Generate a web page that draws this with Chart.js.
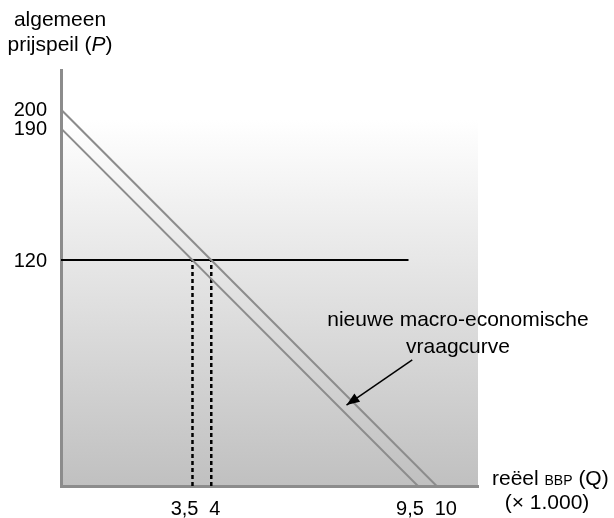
<!DOCTYPE html>
<html>
<head>
<meta charset="utf-8">
<script src="https://cdn.jsdelivr.net/npm/chart.js@4/dist/chart.umd.min.js"></script>
<style>
  html, body { margin: 0; padding: 0; background: #fff; }
  canvas { display: block; }
</style>
</head>
<body>
<canvas id="myChart" width="614" height="518"></canvas>
<script>
// curves (Q in x 1.000, P = price level)
const oldCurveQ = [0, 10];
const oldCurveP = [200, 0];
const newCurveQ = [0, 9.5];
const newCurveP = [190, 0];
const priceLineQ = [0, 9.25];
const priceLineP = [120, 120];
const dropQ = [3.5, 4];
const dropP = [0, 120];
const arrowQ = [9.35, 7.6];
const arrowP = [67, 43];
const xTicks = [3.5, 4, 9.5, 10];
const xTickLabels = ['3,5', '4', '9,5', '10'];
const yTicks = [200, 190, 120];
const yTickLabels = ['200', '190', '120'];

const gray = '#8c8c8c';
const font = '"Liberation Sans", Arial, sans-serif';

function pts(xs, ys) {
    return xs.map((x, i) => ({ x: x, y: ys[i] }));
}

function lineSet(xs, ys, color, width, dash) {
    return {
        data: pts(xs, ys),
        showLine: true,
        borderColor: color,
        borderWidth: width,
        borderDash: dash || [],
        pointRadius: 0,
        fill: false
    };
}

const datasets = [
    lineSet(oldCurveQ, oldCurveP, gray, 2),
    lineSet(newCurveQ, newCurveP, gray, 2),
    lineSet(priceLineQ, priceLineP, '#000', 2),
    lineSet([dropQ[0], dropQ[0]], dropP, '#000', 2.5, [4, 3]),
    lineSet([dropQ[1], dropQ[1]], dropP, '#000', 2.5, [4, 3]),
    lineSet(arrowQ, arrowP, '#000', 1.5)
];

const backdrop = {
    id: 'backdrop',
    beforeDraw(chart) {
        const a = chart.chartArea;
        const ctx = chart.ctx;
        const g = ctx.createLinearGradient(0, a.top, 0, a.bottom);
        g.addColorStop(0, '#ffffff');
        g.addColorStop(0.12, '#ffffff');
        g.addColorStop(1, '#c0c0c0');
        ctx.save();
        ctx.fillStyle = g;
        ctx.fillRect(a.left, a.top, a.right - a.left, a.bottom - a.top);
        ctx.restore();
    }
};

const texts = {
    id: 'texts',
    afterDraw(chart) {
        const ctx = chart.ctx;
        const xs = chart.scales.x;
        const ys = chart.scales.y;
        ctx.save();
        ctx.fillStyle = '#000';

        // arrow head
        const meta = chart.getDatasetMeta(datasets.length - 1).data;
        const p0 = meta[0], p1 = meta[1];
        const ang = Math.atan2(p1.y - p0.y, p1.x - p0.x);
        ctx.save();
        ctx.translate(p1.x, p1.y);
        ctx.rotate(ang);
        ctx.beginPath();
        ctx.moveTo(0, 0);
        ctx.lineTo(-13, -5);
        ctx.lineTo(-13, 5);
        ctx.closePath();
        ctx.fillStyle = '#000';
        ctx.fill();
        ctx.restore();

        // y tick labels
        ctx.font = '20px ' + font;
        ctx.textAlign = 'right';
        ctx.textBaseline = 'middle';
        yTicks.forEach((v, i) => {
            ctx.fillText(yTickLabels[i], xs.left - 14, ys.getPixelForValue(v) + 1);
        });

        // x tick labels, pairs spread apart
        ctx.textBaseline = 'alphabetic';
        xTicks.forEach((v, i) => {
            const px = xs.getPixelForValue(v);
            if (i % 2 === 0) {
                ctx.textAlign = 'right';
                ctx.fillText(xTickLabels[i], px + 6, 515);
            } else {
                ctx.textAlign = 'left';
                ctx.fillText(xTickLabels[i], px - 2, 515);
            }
        });

        // y axis title
        ctx.font = '21px ' + font;
        ctx.textAlign = 'center';
        ctx.fillText('algemeen', 60, 26);
        const t1 = 'prijspeil (';
        const t2 = 'P';
        const t3 = ')';
        ctx.font = '21px ' + font;
        const w1 = ctx.measureText(t1).width;
        const w3 = ctx.measureText(t3).width;
        ctx.font = 'italic 21px ' + font;
        const w2 = ctx.measureText(t2).width;
        let sx = 60 - (w1 + w2 + w3) / 2;
        ctx.textAlign = 'left';
        ctx.font = '21px ' + font;
        ctx.fillText(t1, sx, 51);
        ctx.font = 'italic 21px ' + font;
        ctx.fillText(t2, sx + w1, 51);
        ctx.font = '21px ' + font;
        ctx.fillText(t3, sx + w1 + w2, 51);

        // x axis title
        const a1 = 'reëel ';
        const a2 = 'BBP';
        const a3 = ' (Q)';
        ctx.font = '21px ' + font;
        const b1 = ctx.measureText(a1).width;
        ctx.font = '14px ' + font;
        const b2 = ctx.measureText(a2).width;
        sx = 492;
        ctx.font = '21px ' + font;
        ctx.fillText(a1, sx, 485);
        ctx.font = '14px ' + font;
        ctx.fillText(a2, sx + b1, 485);
        ctx.font = '21px ' + font;
        ctx.fillText(a3, sx + b1 + b2, 485);
        ctx.textAlign = 'center';
        ctx.fillText('(\u00d7 1.000)', 547, 509);

        // curve annotation
        ctx.fillText('nieuwe macro-economische', 458, 326);
        ctx.fillText('vraagcurve', 458, 353);
        ctx.restore();
    }
};

new Chart(document.getElementById('myChart'), {
    type: 'scatter',
    data: { datasets: datasets },
    options: {
        responsive: false,
        animation: false,
        layout: {
            padding: { left: 61, right: 136, top: 70, bottom: 32 }
        },
        plugins: {
            legend: { display: false },
            tooltip: { enabled: false }
        },
        scales: {
            x: {
                type: 'linear',
                min: 0,
                max: 11.1,
                grid: { display: false, drawTicks: false },
                ticks: { display: false },
                border: { color: gray, width: 3 }
            },
            y: {
                type: 'linear',
                min: 0,
                max: 221,
                grid: { display: false, drawTicks: false },
                ticks: { display: false },
                border: { color: gray, width: 3 }
            }
        }
    },
    plugins: [backdrop, texts]
});
</script>
</body>
</html>
